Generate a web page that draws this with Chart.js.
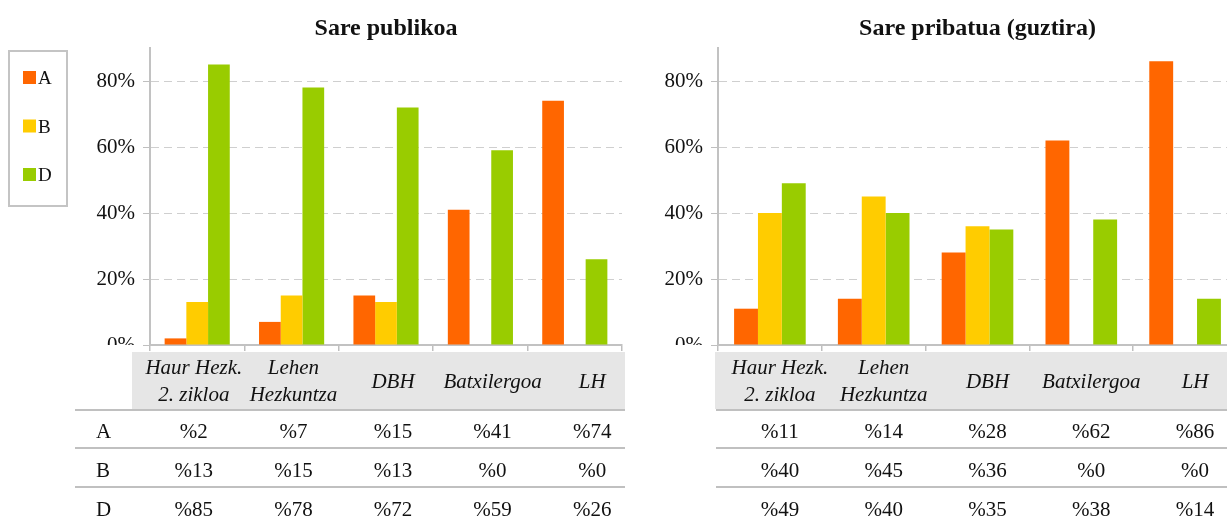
<!DOCTYPE html>
<html><head><meta charset="utf-8">
<script src="https://cdn.jsdelivr.net/npm/chart.js@4.4.1/dist/chart.umd.min.js"></script>
<style>
html,body{margin:0;padding:0;background:#fff;overflow:hidden;}
#wrap{position:relative;width:1227px;height:521px;overflow:hidden;background:#fff;}
#c1{position:absolute;left:0;top:0;}
#c2{position:absolute;left:625px;top:0;}
</style></head><body>
<div id="wrap"><canvas id="c1" width="625" height="521"></canvas><canvas id="c2" width="612" height="521"></canvas></div>
<script>
const categories = [["Haur Hezk.","2. zikloa"],["Lehen","Hezkuntza"],"DBH","Batxilergoa","LH"];
const seriesNames = ["A","B","D"];
const seriesColors = ["#FF6600","#FFCC00","#99CC00"];
const publicA = [2,7,15,41,74];
const publicB = [13,15,13,0,0];
const publicD = [85,78,72,59,26];
const privateA = [11,14,28,62,86];
const privateB = [40,45,36,0,0];
const privateD = [49,40,35,38,14];
const yTicks = [0,20,40,60,80];
const yMax = 90;
const titles = ["Sare publikoa","Sare pribatua (guztira)"];

const SERIF = "'Liberation Serif', 'DejaVu Serif', serif";
const TXT = '#111';

const legendPlugin = {
  id: 'boxLegend',
  afterDraw(chart) {
    const ctx = chart.ctx;
    ctx.save();
    ctx.strokeStyle = '#c4c4c4'; ctx.lineWidth = 2;
    ctx.strokeRect(9, 51, 58, 155);
    ctx.font = '19px ' + SERIF; ctx.textBaseline = 'alphabetic'; ctx.textAlign = 'left';
    chart.data.datasets.forEach((ds, i) => {
      const y = 71 + i * 48.5;
      ctx.fillStyle = ds.backgroundColor; ctx.fillRect(23, y, 13, 13);
      ctx.fillStyle = TXT; ctx.fillText(ds.label, 38, y + 13);
    });
    ctx.restore();
  }
};

function tablePlugin(cfg) {
  return {
    id: 'dataTable',
    afterDraw(chart) {
      const ctx = chart.ctx, xs = chart.scales.x, area = chart.chartArea, W = chart.width;
      const mid = xs.getPixelForValue(2);
      const colX = i => mid + (xs.getPixelForValue(i) - mid) * cfg.stretch + cfg.shift;
      ctx.save();
      // hide lower part of the 0% label (table overlaps it)
      ctx.fillStyle = '#fff';
      ctx.fillRect(0, 345, area.left - 8, 40);
      // header background
      const hx = area.left + cfg.headerOffset;
      ctx.fillStyle = '#e6e6e6';
      ctx.fillRect(hx, 352, W - hx, 57);
      // header texts
      ctx.fillStyle = TXT; ctx.textAlign = 'center'; ctx.textBaseline = 'alphabetic';
      ctx.font = 'italic 21px ' + SERIF;
      chart.data.labels.forEach((lab, i) => {
        const cx = colX(i);
        if (Array.isArray(lab)) {
          ctx.fillText(lab[0], cx, 374);
          ctx.fillText(lab[1], cx, 401);
        } else {
          ctx.fillText(lab, cx, 388);
        }
      });
      // row separator lines
      ctx.strokeStyle = '#c0c0c0'; ctx.lineWidth = 2;
      [410, 448, 487].forEach(y => {
        ctx.beginPath(); ctx.moveTo(cfg.tableLeft, y); ctx.lineTo(W, y); ctx.stroke();
      });
      // values
      ctx.font = '21px ' + SERIF;
      chart.data.datasets.forEach((ds, r) => {
        const by = 438 + r * 39;
        if (cfg.rowLabels) {
          ctx.textAlign = 'left';
          ctx.fillText(ds.label, cfg.rowLabelX, by);
        }
        ctx.textAlign = 'center';
        ds.data.forEach((v, i) => ctx.fillText('%' + v, colX(i), by));
      });
      ctx.restore();
    }
  };
}

function buildChart(id, title, vals, cfg) {
  return new Chart(document.getElementById(id), {
    type: 'bar',
    data: {
      labels: categories,
      datasets: seriesNames.map((n, i) => ({
        label: n, data: vals[i], backgroundColor: seriesColors[i],
        borderWidth: 0, categoryPercentage: 0.69, barPercentage: 1.0
      }))
    },
    options: {
      responsive: false, animation: false, devicePixelRatio: 1,
      layout: { padding: { left: 0, right: cfg.padRight, top: 0, bottom: 170 } },
      plugins: {
        legend: { display: false }, tooltip: { enabled: false },
        title: { display: true, text: title, fullSize: false, color: TXT,
          font: { family: SERIF, size: 24, weight: 'bold', lineHeight: 1.2 },
          padding: { top: 14, bottom: 5.2 } }
      },
      scales: {
        x: {
          grid: { display: true, drawOnChartArea: false, drawTicks: true, tickLength: 6,
                  color: '#bfbfbf', tickColor: '#bfbfbf', lineWidth: 1.5, offset: true },
          ticks: { display: false },
          border: { display: true, color: '#c2c2c2', width: 2 }
        },
        y: {
          min: 0, max: yMax,
          afterFit: s => { s.width = cfg.axisWidth; },
          afterBuildTicks: s => { s.ticks = yTicks.map(v => ({ value: v })); },
          ticks: { callback: v => v + '%', font: { family: SERIF, size: 21 }, color: TXT, padding: 8 },
          grid: { color: c => (c.tick && c.tick.value === 0) ? 'rgba(0,0,0,0)' : '#cfcfcf',
                  lineWidth: 1, drawTicks: true, tickLength: 7, tickColor: '#bfbfbf', tickBorderDash: [] },
          border: { display: true, color: '#c2c2c2', width: 2, dash: [8, 5] }
        }
      }
    },
    plugins: [tablePlugin(cfg)].concat(cfg.legend ? [legendPlugin] : [])
  });
}

buildChart('c1', titles[0], [publicA, publicB, publicD],
  { axisWidth: 150, padRight: 3, headerOffset: -18, tableLeft: 75, stretch: 1.055, shift: 7,
    rowLabels: true, rowLabelX: 96, legend: true });
buildChart('c2', titles[1], [privateA, privateB, privateD],
  { axisWidth: 93, padRight: 0, headerOffset: -3, tableLeft: 91, stretch: 1.0, shift: 10,
    rowLabels: false, legend: false });
</script>
</body></html>
